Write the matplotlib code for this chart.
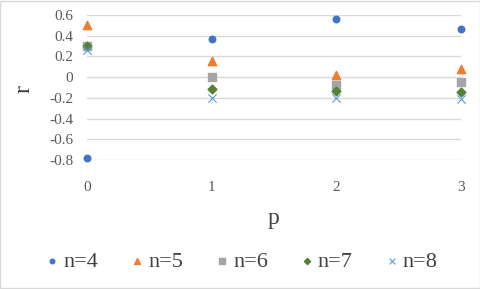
import matplotlib
matplotlib.use("Agg")
import matplotlib.pyplot as plt
from matplotlib.patches import Rectangle

p = [0, 1, 2, 3]
n4 = [-0.78, 0.37, 0.56, 0.46]
n5 = [0.50, 0.16, 0.02, 0.075]
n6 = [0.30, 0.00, -0.08, -0.05]
n7 = [0.30, -0.11, -0.135, -0.148]
n8 = [0.26, -0.20, -0.20, -0.21]
labels = ["n=4", "n=5", "n=6", "n=7", "n=8"]
yticks = [-0.8, -0.6, -0.4, -0.2, 0, 0.2, 0.4, 0.6]
xticks = [0, 1, 2, 3]

plt.rcParams['font.family'] = ['Liberation Serif', 'DejaVu Serif']

fig = plt.figure(figsize=(4.81, 2.89), dpi=100)
ax = fig.add_axes([87/481, 1-160/289, (461-87)/481, (160-15)/289])

styles = [
    dict(marker='o', color='#4472C4', s=22),
    dict(marker='^', color='#ED7D31', s=36),
    dict(marker='s', color='#A5A5A5', s=36),
    dict(marker='D', color='#548235', s=20),
    dict(marker='x', color='#5B9BD5', s=36, linewidths=0.8),
]
for vals, lab, st in zip([n4, n5, n6, n7, n8], labels, styles):
    ax.scatter(p, vals, label=lab, zorder=3, clip_on=False, **st)

ax.set_xlim(0, 3)
ax.set_ylim(-0.8, 0.6)
ax.set_yticks(yticks)
ax.set_yticklabels(["-0.8", "-0.6", "-0.4", "-0.2", "0", "0.2", "0.4", "0.6"])
ax.set_xticks(xticks)
ax.set_xticklabels([str(x) for x in xticks])
ax.grid(axis='y', color='#D9D9D9', linewidth=1)
for s in ax.spines.values():
    s.set_visible(False)
ax.tick_params(length=0, labelsize=11, colors='#595959', pad=10)
ax.tick_params(axis='x', pad=15)
ax.set_xlabel('p', fontsize=17, color='#404040', labelpad=10)
ax.set_ylabel('r', fontsize=17, color='#404040')
ax.yaxis.set_label_coords(-0.14, 0.49)

leg = fig.legend(loc='center', bbox_to_anchor=(0.5, 1-262/289), ncol=5, frameon=False,
                 fontsize=16, handletextpad=0.1, handlelength=0.8, columnspacing=1.35,
                 markerscale=0.7, labelcolor='#404040', borderaxespad=0)

fig.add_artist(Rectangle((0.001, 0.002), 0.997, 0.995, transform=fig.transFigure,
                         fill=False, edgecolor='#D9D9D9', linewidth=1))
fig.savefig('out.png', dpi=100)
